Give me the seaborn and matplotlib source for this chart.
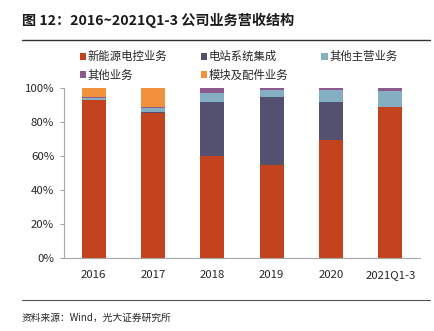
import numpy as np
import pandas as pd
import matplotlib
matplotlib.use("Agg")
import matplotlib.pyplot as plt
from matplotlib.lines import Line2D
from matplotlib.patches import Patch
import seaborn as sns

# Revenue structure by business line (% of total)
periods = ["2016", "2017", "2018", "2019", "2020", "2021Q1-3"]
series_names = ["新能源电控业务", "电站系统集成", "其他主营业务", "其他业务", "模块及配件业务"]
ev_control = [92.6, 85.0, 60.0, 54.2, 69.0, 88.7]
station_integration = [0.0, 0.3, 31.3, 40.0, 22.6, 0.0]
other_main = [1.2, 2.4, 5.3, 4.6, 7.1, 9.0]
other_business = [0.5, 0.6, 3.4, 1.2, 1.3, 2.3]
modules_parts = [5.7, 11.7, 0.0, 0.0, 0.0, 0.0]
colors = ["#C4431F", "#545170", "#84AEC2", "#8C5A8C", "#F2913C"]
ytick_labels = ["0%", "20%", "40%", "60%", "80%", "100%"]

sns.set_theme(style="white")
plt.rcParams["font.family"] = ["Noto Sans CJK SC", "DejaVu Sans"]

W, H = 435, 331
fig = plt.figure(figsize=(W / 100, H / 100), dpi=100)
fig.patch.set_facecolor("white")
ax = fig.add_axes([64 / W, 1 - 257.5 / H, (420 - 64) / W, 170 / H])

layers = [ev_control, station_integration, other_main, other_business, modules_parts]
cum = np.cumsum(np.array(layers, dtype=float), axis=0) / 100.0

# Stacked bars: draw cumulative totals from the top layer downward
for i in range(len(layers) - 1, -1, -1):
    df = pd.DataFrame({"period": periods, "value": cum[i]})
    sns.barplot(data=df, x="period", y="value", color=colors[i], width=0.4,
                saturation=1, ax=ax, linewidth=0, order=periods)

ax.set_xlim(-0.5, len(periods) - 0.5)
ax.set_ylim(0, 1)
ax.set_yticks(np.linspace(0, 1, 6))
ax.set_yticklabels(ytick_labels)
ax.set_xlabel("")
ax.set_ylabel("")
for s in ["top", "right"]:
    ax.spines[s].set_visible(False)
for s in ["left", "bottom"]:
    ax.spines[s].set_color("#A6A6A6")
    ax.spines[s].set_linewidth(0.8)
ax.tick_params(axis="y", which="both", left=True, length=3, width=0.8,
               color="#A6A6A6", labelsize=8.2, labelcolor="#262626", pad=4)
ax.tick_params(axis="x", bottom=False, labelsize=8.2, labelcolor="#262626", pad=3)

# Legend in row-major order over three columns
handles = [Patch(facecolor=c, edgecolor="none") for c in colors]
order = [0, 3, 1, 4, 2]
fig.legend([handles[i] for i in order], [series_names[i] for i in order],
           loc="upper left", bbox_to_anchor=(80 / W, 1 - 51 / H), ncol=3,
           frameon=False, fontsize=8.2, handlelength=0.55, handleheight=0.55,
           handletextpad=0.15, columnspacing=2.9, labelspacing=0.62,
           borderaxespad=0, borderpad=0)

fig.text(22 / W, 1 - 20 / H, "图 12：2016~2021Q1-3 公司业务营收结构",
         fontsize=10.2, fontweight="bold", color="#1A1A1A", va="center", ha="left")
fig.add_artist(Line2D([22 / W, 430 / W], [1 - 39.5 / H, 1 - 39.5 / H],
                      color="#333333", lw=1.0, transform=fig.transFigure))
fig.add_artist(Line2D([22 / W, 430 / W], [1 - 300 / H, 1 - 300 / H],
                      color="#555555", lw=0.8, transform=fig.transFigure))
fig.text(22 / W, 1 - 318 / H, "资料来源：Wind，光大证券研究所",
         fontsize=7, color="#262626", va="center", ha="left")

fig.savefig("out.png", dpi=100, facecolor="white")
